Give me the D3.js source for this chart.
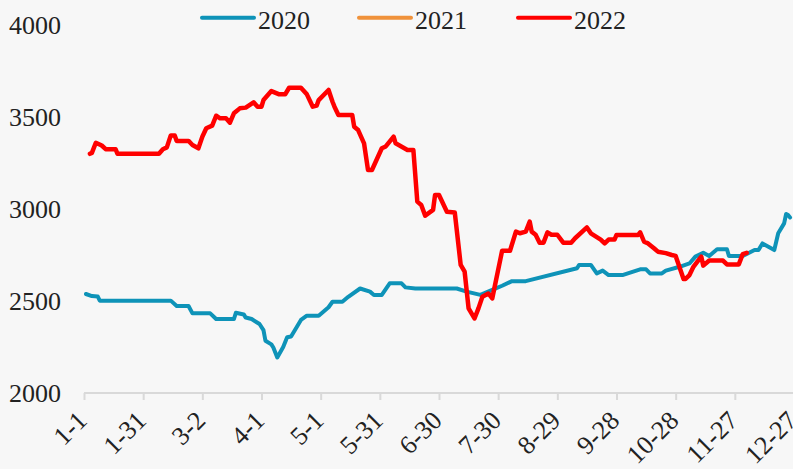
<!DOCTYPE html>
<html><head><meta charset="utf-8">
<script src="https://cdn.jsdelivr.net/npm/d3@7"></script>
<style>html,body{margin:0;padding:0;background:#f7f7f7;overflow:hidden}</style>
</head><body><svg id="c" width="793" height="469"></svg>
<script>
const tickLabels = ["1-1","1-31","3-2","4-1","5-1","5-31","6-30","7-30","8-29","9-28","10-28","11-27","12-27"];
const tickDays = [0,30,60,90,120,150,180,210,240,270,300,330,360];
const yTicks = [2000,2500,3000,3500,4000];
const seriesNames = ["2020","2021","2022"];
const seriesColors = ["#0e93b8","#f0923b","#ff0000"];
// [day of year, value]
const data2020 = [[1,2538],[4,2527],[7,2524],[8,2502],[44,2502],[47,2473],[53,2473],[55,2433],[64,2433],[67,2402],[76,2402],[77,2436],[81,2427],[82,2410],[85,2402],[89,2375],[91,2342],[92,2284],[95,2264],[96,2247],[98,2193],[101,2250],[103,2303],[105,2307],[110,2397],[113,2420],[119,2420],[124,2466],[126,2496],[131,2496],[134,2523],[140,2568],[145,2551],[147,2533],[151,2533],[155,2596],[161,2596],[163,2574],[168,2568],[189,2568],[194,2551],[201,2533],[207,2560],[212,2583],[217,2608],[224,2608],[250,2678],[251,2696],[257,2696],[260,2650],[263,2665],[266,2641],[273,2641],[282,2672],[285,2672],[287,2650],[293,2650],[295,2665],[302,2686],[307,2704],[310,2741],[314,2762],[317,2745],[321,2781],[326,2781],[327,2745],[334,2745],[340,2777],[342,2777],[344,2813],[350,2777],[352,2868],[355,2922],[356,2973],[357,2967],[358,2954]];
const data2021 = [];
const data2022 = [[3,3300],[4,3305],[6,3360],[9,3345],[11,3325],[16,3325],[17,3300],[38,3300],[40,3325],[42,3335],[44,3400],[46,3400],[47,3370],[53,3370],[55,3348],[58,3330],[60,3393],[62,3439],[65,3453],[67,3507],[69,3493],[72,3493],[74,3469],[76,3520],[79,3547],[82,3551],[86,3580],[88,3556],[90,3556],[91,3592],[95,3641],[99,3623],[102,3623],[104,3659],[110,3659],[113,3623],[116,3556],[118,3562],[119,3592],[124,3647],[126,3583],[127,3556],[129,3511],[136,3511],[137,3447],[139,3429],[142,3357],[144,3212],[146,3212],[151,3330],[153,3340],[157,3393],[158,3357],[164,3321],[167,3321],[169,3040],[171,3022],[173,2964],[177,2995],[178,3076],[180,3076],[184,2985],[188,2981],[191,2696],[193,2659],[195,2460],[198,2405],[200,2460],[202,2523],[205,2541],[207,2514],[212,2773],[216,2773],[219,2877],[221,2868],[224,2877],[226,2931],[227,2877],[229,2860],[231,2817],[233,2817],[235,2873],[237,2860],[240,2860],[243,2817],[247,2817],[249,2841],[255,2900],[257,2868],[262,2834],[264,2813],[266,2834],[269,2834],[270,2859],[281,2859],[282,2873],[284,2822],[286,2813],[289,2787],[291,2768],[295,2760],[298,2750],[300,2745],[304,2620],[305,2620],[307,2641],[309,2686],[311,2714],[313,2741],[314,2692],[317,2720],[324,2720],[326,2699],[332,2699],[334,2755],[336,2762]];

const svg = d3.select("#c");
const FONT = "'Liberation Serif','DejaVu Serif',serif";
svg.append("rect").attr("width",793).attr("height",469).attr("fill","#f7f7f7");
const x = d3.scaleLinear().domain([0,360]).range([84,794]);
const y = d3.scaleLinear().domain([2000,4000]).range([393,25]);

// y labels
svg.append("g").selectAll("text").data(yTicks).join("text")
  .attr("x",9).attr("y",d=>y(d)).attr("dy","0.36em")
  .attr("font-family",FONT).attr("font-size",26).attr("fill","#222")
  .text(d=>d);

// x axis
const xAxis = d3.axisBottom(x).tickValues(tickDays).tickSize(7).tickSizeOuter(0)
  .tickFormat((d,i)=>tickLabels[i]);
const gx = svg.append("g").attr("transform","translate(0,393)").call(xAxis);
gx.select(".domain").attr("stroke","#d9d9d9").attr("stroke-width",2).attr("d","M84,0H793");
gx.selectAll(".tick line").attr("stroke","#d9d9d9").attr("stroke-width",2);
gx.selectAll(".tick text").attr("font-family",FONT).attr("font-size",26).attr("fill","#222")
  .attr("text-anchor","end").attr("y",0).attr("dy",0)
  .attr("transform","translate(4,29) rotate(-45)");

const line = d3.line().x(d=>x(d[0])).y(d=>y(d[1]));
const all = [data2020,data2021,data2022];
all.forEach((ds,i)=>{
  if(!ds.length) return;
  svg.append("path").datum(ds).attr("d",line).attr("fill","none")
    .attr("stroke",seriesColors[i]).attr("stroke-width",i===2?4.5:4)
    .attr("stroke-linejoin","round").attr("stroke-linecap","round");
});

// legend
const legX = [201,358,517];
const lg = svg.append("g");
seriesNames.forEach((n,i)=>{
  lg.append("line").attr("x1",legX[i]+1).attr("x2",legX[i]+53).attr("y1",17.7).attr("y2",17.7)
    .attr("stroke",seriesColors[i]).attr("stroke-width",4).attr("stroke-linecap","round");
  lg.append("text").attr("x",legX[i]+57).attr("y",28.5).attr("font-family",FONT)
    .attr("font-size",26).attr("fill","#222").text(n);
});
</script></body></html>
